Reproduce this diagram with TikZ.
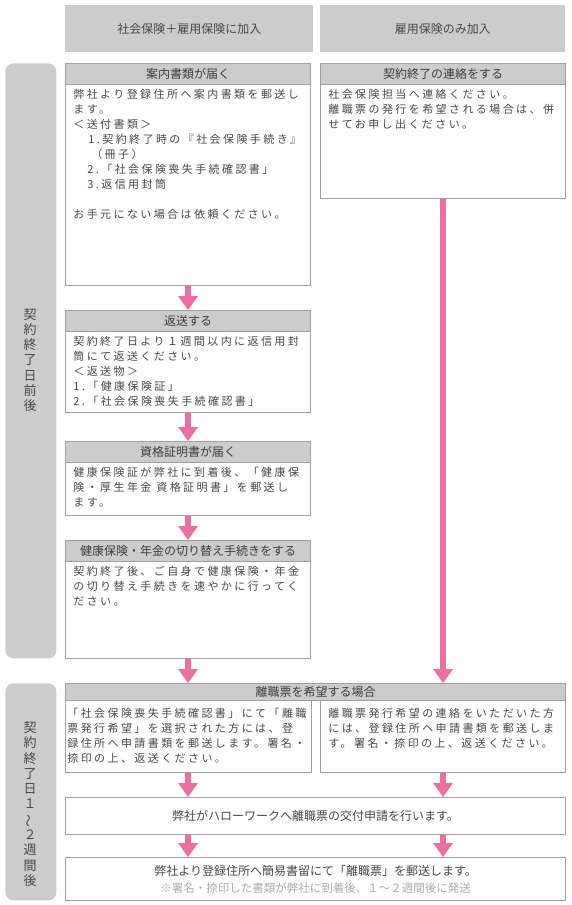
\documentclass[tikz,border=0pt]{standalone}
\usepackage{fontspec}
\usepackage{graphicx}
\setmainfont{Noto Sans CJK JP}
\newfontfamily\jpbody[LetterSpace=22]{Noto Sans CJK JP}
\usetikzlibrary{arrows.meta}

\definecolor{boxline}{RGB}{160,160,160}
\definecolor{barfill}{RGB}{204,204,204}
\definecolor{flowpink}{RGB}{237,110,160}
\definecolor{inktext}{RGB}{72,72,72}
\definecolor{notegrey}{RGB}{170,170,170}

\tikzset{every picture/.style={line width=0.75pt}}

\begin{document}
\begin{tikzpicture}[x=1pt,y=1pt,yscale=-1,xscale=1,
  header/.style={fill=barfill, draw=none, anchor=north west, inner sep=0pt,
    font=\fontsize{12pt}{14pt}\selectfont, text=inktext},
  sidetab/.style={fill=barfill, draw=none, rounded corners=8pt, anchor=north west,
    minimum width=51pt, inner sep=0pt},
  sidetext/.style={align=center, inner sep=0pt, text=inktext,
    font=\fontsize{13pt}{15.3pt}\selectfont},
  frame/.style={draw=boxline, line width=1.1pt, fill=white, anchor=north west, inner sep=0pt},
  titlebar/.style={draw=boxline, line width=1.1pt, fill=barfill, anchor=north, inner sep=0pt,
    font=\fontsize{12pt}{14pt}\selectfont, text=inktext!85!black},
  bodytext/.style={anchor=north west, inner sep=0pt, align=left, text=inktext,
    font=\jpbody\fontsize{11pt}{15pt}\selectfont},
  flow/.style={draw=flowpink, line width=6.5pt,
    -{Triangle[width=20pt,length=14pt,line width=0pt]}},
]
\useasboundingbox (0,0) rectangle (571,905);

%Shape: Header Bars
\node [header, minimum width=248pt, minimum height=47pt] (hdrboth) at (65,5) {社会保険＋雇用保険に加入};
\node [header, minimum width=245pt, minimum height=47pt] (hdronly) at (320,5) {雇用保険のみ加入};

%Shape: Side Tabs
\node [sidetab, minimum height=595pt] (tabbefore) at (5,63) {};
\node [sidetab, minimum height=217pt] (tabafter) at (5,683) {};
% Text Node
\node [sidetext] (tabbeforetext) at (30,360) {契\\約\\終\\了\\日\\前\\後};
% Text Node
\node [sidetext] (tabaftertext) at (30,804) {契\\約\\終\\了\\日\\１\\\rotatebox[origin=c]{90}{〜}\\２\\週\\間\\後};

%Shape: Left Column
\node [frame, minimum width=245pt, minimum height=222pt] (guide) at (65,63) {};
\node [titlebar, minimum width=245pt, minimum height=21pt] (guidetitle) at (guide.north) {案内書類が届く};
% Text Node
\node [bodytext] (guidetext) at (73,89) {弊社より登録住所へ案内書類を郵送し\\
ます。\\
＜送付書類＞\\
\hspace*{15pt}1.契約終了時の『社会保険手続き』\\
\hspace*{18pt}（冊子）\\
\hspace*{14pt}2.「社会保険喪失手続確認書」\\
\hspace*{14pt}3.返信用封筒\\[15pt]
お手元にない場合は依頼ください。};

\node [frame, minimum width=245pt, minimum height=102pt] (sendback) at (65,310) {};
\node [titlebar, minimum width=245pt, minimum height=21pt] (sendbacktitle) at (sendback.north) {返送する};
% Text Node
\node [bodytext] (sendbacktext) at (73,336) {契約終了日より１週間以内に返信用封\\
筒にて返送ください。\\
＜返送物＞\\
1.「健康保険証」\\
2.「社会保険喪失手続確認書」};

\node [frame, minimum width=245pt, minimum height=74pt] (certif) at (65,441) {};
\node [titlebar, minimum width=245pt, minimum height=21pt] (certiftitle) at (certif.north) {資格証明書が届く};
% Text Node
\node [bodytext] (certiftext) at (73,467) {健康保険証が弊社に到着後、「健康保\\
険・厚生年金 資格証明書」を郵送し\\
ます。};

\node [frame, minimum width=245pt, minimum height=118pt] (switchbox) at (65,540) {};
\node [titlebar, minimum width=245pt, minimum height=21pt] (switchtitle) at (switchbox.north) {健康保険・年金の切り替え手続きをする};
% Text Node
\node [bodytext] (switchtext) at (73,566) {契約終了後、ご自身で健康保険・年金\\
の切り替え手続きを速やかに行ってく\\
ださい。};

%Shape: Right Column
\node [frame, minimum width=245pt, minimum height=135pt] (contact) at (320,63) {};
\node [titlebar, minimum width=245pt, minimum height=21pt] (contacttitle) at (contact.north) {契約終了の連絡をする};
% Text Node
\node [bodytext] (contacttext) at (328,89) {社会保険担当へ連絡ください。\\
離職票の発行を希望される場合は、併\\
せてお申し出ください。};

%Shape: After Contract End
\node [titlebar, anchor=north west, minimum width=500pt, minimum height=17pt] (wishbar) at (65,683) {離職票を希望する場合};
\node [frame, minimum width=246pt, minimum height=72pt] (wishleft) at (65,700) {};
\node [frame, minimum width=245pt, minimum height=72pt] (wishright) at (320,700) {};
% Text Node
\node [bodytext] (wishlefttext) at (67,708) {「社会保険喪失手続確認書」にて「離職\\
票発行希望」を選択された方には、登\\
録住所へ申請書類を郵送します。署名・\\
捺印の上、返送ください。};
% Text Node
\node [bodytext] (wishrighttext) at (328,708) {離職票発行希望の連絡をいただいた方\\
には、登録住所へ申請書類を郵送しま\\
す。署名・捺印の上、返送ください。};

\node [frame, anchor=north west, minimum width=500pt, minimum height=37pt,
  font=\fontsize{12pt}{14pt}\selectfont, text=inktext] (apply) at (65,797) {弊社がハローワークへ離職票の交付申請を行います。};
\node [frame, anchor=north west, minimum width=500pt, minimum height=43pt, align=center,
  font=\fontsize{12pt}{17pt}\selectfont, text=inktext] (mailout) at (65,857) {弊社より登録住所へ簡易書留にて「離職票」を郵送します。\\
{\color{notegrey}\fontsize{11.5pt}{17pt}\selectfont ※署名・捺印した書類が弊社に到着後、１〜２週間後に発送}};

%Straight Lines
\draw [flow] (guide.south) -- (sendback.north);
\draw [flow] (sendback.south) -- (certif.north);
\draw [flow] (certif.south) -- (switchbox.north);
\draw [flow] (switchbox.south) -- (switchbox.south |- wishbar.north);
\draw [flow] (contact.south) -- (contact.south |- wishbar.north);
\draw [flow] (wishleft.south -| guide.south) -- (apply.north -| guide.south);
\draw [flow] (wishright.south) -- (apply.north -| wishright.south);
\draw [flow] (apply.south -| guide.south) -- (mailout.north -| guide.south);
\draw [flow] (apply.south -| wishright.south) -- (mailout.north -| wishright.south);

\end{tikzpicture}
\end{document}
